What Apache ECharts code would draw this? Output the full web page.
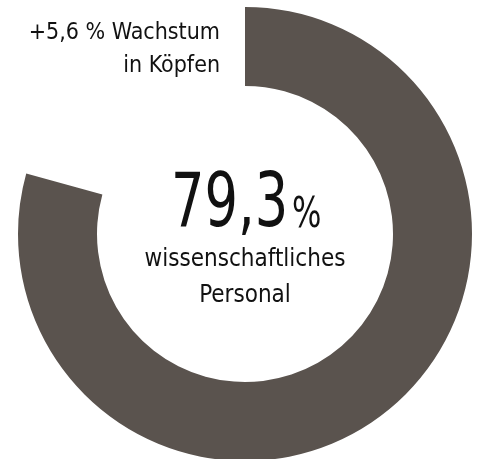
<!DOCTYPE html>
<html>
<head>
<meta charset="utf-8">
<script src="https://cdn.jsdelivr.net/npm/echarts@6/dist/echarts.min.js"></script>
<style>
  html, body { margin: 0; padding: 0; background: #fff; }
  #share { width: 479px; height: 459px; }
</style>
</head>
<body>
<div id="share"></div>
<script>
var shareNames = ['wissenschaftliches Personal', 'übriges Personal'];
var shareValues = [79.3, 20.7];
var bigValue = '79,3';
var growthLines = ['+5,6 % Wachstum', 'in Köpfen'];
var labelLines = ['wissenschaftliches', 'Personal'];

var font = '"DejaVu Sans Condensed", "Liberation Sans Narrow", sans-serif';
var ink = '#111';

function drawShareChart () {
	var myChart = echarts.init(document.getElementById('share'));

	var option = {
		animation: false,
		series: [{
			type: 'pie',
			center: [245, 234],
			radius: [148, 227],
			startAngle: 90,
			clockwise: true,
			silent: true,
			label: { show: false },
			labelLine: { show: false },
			emphasis: { disabled: true },
			data: [
				{ name: shareNames[0], value: shareValues[0], itemStyle: { color: '#5a534e' } },
				{ name: shareNames[1], value: shareValues[1], itemStyle: { color: 'rgba(0,0,0,0)' } }
			]
		}],
		graphic: [
			{ type: 'text', x: 220, y: 22, style: { text: growthLines[0], font: '23px ' + font, fill: ink, textAlign: 'right' } },
			{ type: 'text', x: 220, y: 55, style: { text: growthLines[1], font: '23px ' + font, fill: ink, textAlign: 'right' } },
			{ type: 'text', x: 171, y: 169, scaleX: 0.78, style: { text: bigValue, font: '75px ' + font, fill: ink } },
			{ type: 'text', x: 292, y: 194, scaleX: 0.8, style: { text: '%', font: '43px ' + font, fill: ink } },
			{ type: 'text', x: 245, y: 248, style: { text: labelLines[0], font: '24px ' + font, fill: ink, textAlign: 'center' } },
			{ type: 'text', x: 245, y: 284, style: { text: labelLines[1], font: '24px ' + font, fill: ink, textAlign: 'center' } }
		]
	};

	myChart.setOption(option);
}

drawShareChart();
</script>
</body>
</html>
